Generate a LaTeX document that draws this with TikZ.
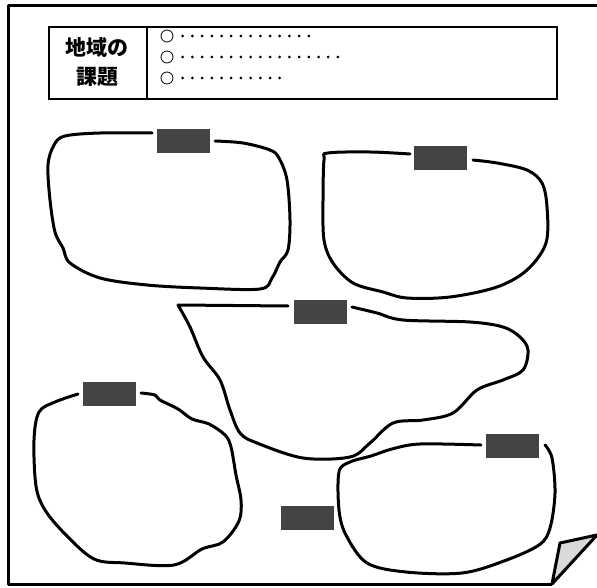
\documentclass[tikz,border=0pt]{standalone}
\usepackage{fontspec}
\newfontfamily\jpfont{Noto Sans CJK JP}
\usetikzlibrary{positioning}
\definecolor{tagfill}{HTML}{444444}
\definecolor{foldfill}{HTML}{DADADA}

\begin{document}
\begin{tikzpicture}[x=1pt,y=-1pt,
  tag/.style={fill=tagfill,minimum width=53pt,minimum height=24pt,inner sep=0pt},
  blob/.style={line width=3pt,line cap=round,line join=round},
  bullet/.style={circle,draw,line width=0.8pt,minimum size=12pt,inner sep=0pt},
  frame/.style={line width=3pt,line join=round}]
\useasboundingbox (0,0) rectangle (597,588);
% sheet with turned corner
\draw[frame] (597,6) -- (8,6) -- (8,584) -- (552,584);
\draw[frame,fill=foldfill] (552,584) -- (560,543) -- (597,535) -- cycle;
% header
\node[draw,line width=2pt,minimum width=508pt,minimum height=72pt,inner sep=0pt,anchor=north west] (head) at (48,26) {};
\draw[line width=1.5pt] ([xshift=99pt]head.north west) -- ([xshift=99pt]head.south west);
\node[font=\jpfont\bfseries\fontsize{21}{29}\selectfont,align=center] (theme) at (97,62) {地域の\\課題};
\foreach \y/\n in {36/14,57/17,78/11} {
  \node[bullet] (b\y) at (167,\y) {};
  \foreach \k in {1,...,\n} \fill (173+9.7*\k,\y) circle (1.5pt);
}
% tags
\node[tag] (tagA) at (183.5,141) {};
\node[tag] (tagB) at (440.5,158.5) {};
\node[tag] (tagC) at (320.5,311.5) {};
\node[tag] (tagD) at (109.5,394) {};
\node[tag] (tagE) at (512.5,445.5) {};
\node[tag] (tagF) at (307,518) {};
% areas
\draw[blob] plot[smooth,tension=0.55] coordinates {(215,141) (243,143) (270,150) (279,158) (287,180) (290,220) (288,250) (280,262) (272,278) (260,289) (200,288) (147,285) (100,278) (70,263) (63,248) (55,232) (50,200) (48,165) (54,145) (65,136) (100,133) (152,133)};
\draw[blob] plot[smooth,tension=0.55] coordinates {(473,160) (497,163) (527,170) (542,183) (547,207) (546,243) (527,270) (497,287) (450,297) (407,298) (383,292) (353,283) (333,263) (324,240) (323,200) (324,160) (328,153) (370,152) (410,154)};
\draw[blob] (288,306) -- (178,305) plot[smooth,tension=0.55] coordinates {(178,305) (190,327) (203,357) (220,380) (230,410) (240,433) (257,443) (303,458) (350,457) (370,443) (393,423) (423,420) (453,413) (477,390) (503,380) (523,370) (528,350) (520,337) (503,327) (470,322) (403,320) (377,313) (352,307)};
\draw[blob] plot[smooth,tension=0.55] coordinates {(78,394) (55,402) (39,412) (34,440) (36,486) (45,510) (66,535) (94,559) (125,563) (174,565) (202,549) (223,542) (239,521) (241,500) (236,475) (231,447) (225,435) (209,424) (192,419) (178,409) (160,400) (155,395) (141,393)};
\draw[blob] plot[smooth,tension=0.55] coordinates {(481,445) (420,444) (392,449) (371,456) (350,462) (339,472) (339,510) (346,535) (367,563) (406,572) (462,573) (504,561) (539,545) (550,528) (555,493) (552,458) (545,445)};
\end{tikzpicture}
\end{document}
